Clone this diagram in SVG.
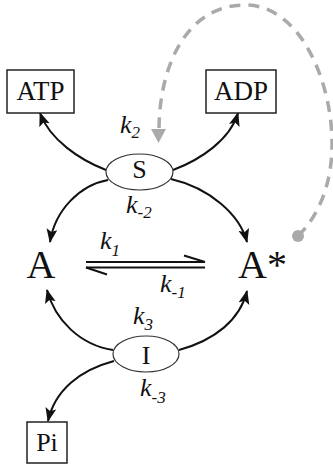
<svg xmlns="http://www.w3.org/2000/svg" width="333" height="470" viewBox="0 0 333 470">
<style>
.lbl{font-family:"Liberation Serif","Times New Roman",serif;fill:#111;}
.k{font-family:"Liberation Serif","Times New Roman",serif;font-style:italic;font-size:26px;fill:#111;}
.sub{font-size:17px;}
.box{fill:#fff;stroke:#222;stroke-width:1.5;}
.ell{fill:#fff;stroke:#333;stroke-width:1.2;}
.arc{fill:none;stroke:#111;stroke-width:2;marker-end:url(#ah);}
.dash{fill:none;stroke:#aaa;stroke-width:3.5;stroke-dasharray:11 8;}
</style>
<defs>
<marker id="ah" markerUnits="userSpaceOnUse" markerWidth="15" markerHeight="12" refX="13" refY="5.5" orient="auto">
<path d="M0,0 L14,5.5 L0,11 L3,5.5 z" fill="#111"/>
</marker>
</defs>
<g id="connectors">
<path class="arc" d="M106 170 C80 160 50 140 40 113"/>
<path class="arc" d="M173 170 C200 160 230 140 238 113"/>
<path class="arc" d="M108 180 C80 185 55 210 50 242"/>
<path class="arc" d="M171 179 C210 188 240 215 247 242"/>
<path class="arc" d="M113 350 C80 345 55 320 47 290"/>
<path class="arc" d="M179 350 C215 340 240 320 247 291"/>
<path class="arc" d="M114 361 C80 370 55 390 48 421"/>
<g id="equilibrium" stroke="#111" stroke-width="2" fill="none">
<line x1="86" y1="262" x2="205" y2="262"/>
<line x1="86" y1="267.5" x2="205" y2="267.5"/>
<line x1="205" y1="262" x2="184" y2="255.5"/>
<line x1="86" y1="267.5" x2="107" y2="274.5"/>
</g>
<g id="feedback">
<path class="dash" d="M298 236 C320 215 333 180 332 140 C331 80 300 5 245 5 C190 5 160 60 159 128"/>
<circle cx="298" cy="236" r="6" fill="#aaa"/>
<path d="M151 129 L166 129 L158.5 143 z" fill="#aaa"/>
</g>
</g>
<g id="ATP"><rect class="box" x="7" y="70" width="67" height="43"/><text class="lbl" x="40.5" y="100" font-size="27" text-anchor="middle">ATP</text></g>
<g id="ADP"><rect class="box" x="206" y="70" width="70" height="43"/><text class="lbl" x="241" y="100" font-size="27" text-anchor="middle">ADP</text></g>
<g id="S"><ellipse class="ell" cx="139.5" cy="172" rx="33.5" ry="18"/><text class="lbl" x="139.5" y="178" font-size="26" text-anchor="middle">S</text></g>
<g id="I"><ellipse class="ell" cx="146" cy="354" rx="33" ry="18"/><text class="lbl" x="146" y="364" font-size="26" text-anchor="middle">I</text></g>
<g id="Pi"><rect class="box" x="27" y="422" width="40" height="41"/><text class="lbl" x="47" y="451" font-size="26" text-anchor="middle">Pi</text></g>
<g id="A"><text class="lbl" x="41" y="278" font-size="40" text-anchor="middle">A</text></g>
<g id="Astar"><text class="lbl" x="238" y="278" font-size="40">A*</text></g>
<g id="labels">
<text class="k" x="120" y="133">k<tspan class="sub" dy="5">2</tspan></text>
<text class="k" x="126" y="213">k<tspan class="sub" dy="5">-2</tspan></text>
<text class="k" x="100" y="249">k<tspan class="sub" dy="7">1</tspan></text>
<text class="k" x="160" y="292">k<tspan class="sub" dy="6">-1</tspan></text>
<text class="k" x="133" y="324">k<tspan class="sub" dy="6">3</tspan></text>
<text class="k" x="140" y="396">k<tspan class="sub" dy="7">-3</tspan></text>
</g>
</svg>
